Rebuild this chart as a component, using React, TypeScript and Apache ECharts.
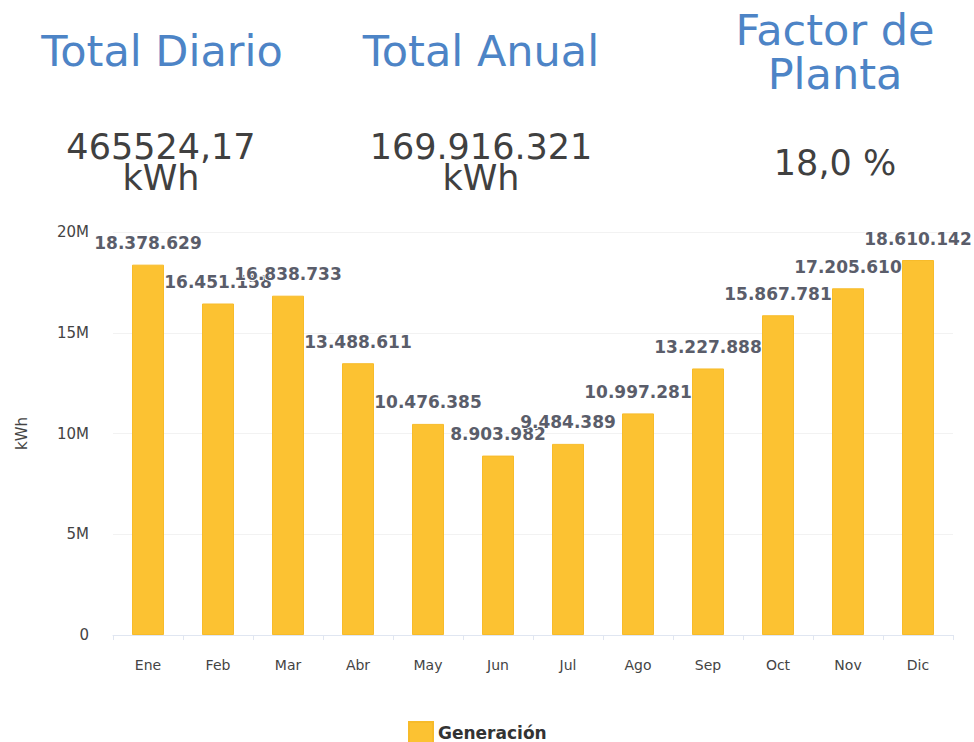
import React, { useEffect, useRef } from "react";
import * as echarts from "echarts";

const months = ["Ene", "Feb", "Mar", "Abr", "May", "Jun", "Jul", "Ago", "Sep", "Oct", "Nov", "Dic"];
const generacion = [18378629, 16451158, 16838733, 13488611, 10476385, 8903982, 9484389, 10997281, 13227888, 15867781, 17205610, 18610142];
const yTicks = [0, 5000000, 10000000, 15000000, 20000000];
const kpiTitles = ["Total Diario", "Total Anual", "Factor de\nPlanta"];
const kpiValues = ["465524,17\nkWh", "169.916.321\nkWh", "18,0 %"];

const fmt = (v: number) => String(Math.round(v)).replace(/\B(?=(\d{3})+(?!\d))/g, ".");

export default function App() {
  const ref = useRef<HTMLDivElement>(null);
  useEffect(() => {
    if (!ref.current) return;
    const chart = echarts.init(ref.current, null, { renderer: "svg" });
    const titleFont = "43px 'DejaVu Sans'";
    const valFont = "35px 'DejaVu Sans'";
    chart.setOption({
      animation: false,
      backgroundColor: "#ffffff",
      graphic: [
        { type: "text", x: 162, y: 51, style: { text: kpiTitles[0], font: titleFont, fill: "#4d84c6", align: "center", verticalAlign: "middle" } },
        { type: "text", x: 481, y: 51, style: { text: kpiTitles[1], font: titleFont, fill: "#4d84c6", align: "center", verticalAlign: "middle" } },
        { type: "text", x: 835, y: 52, style: { text: kpiTitles[2], font: titleFont, fill: "#4d84c6", align: "center", verticalAlign: "middle", lineHeight: 44 } },
        { type: "text", x: 161, y: 162, style: { text: kpiValues[0], font: valFont, fill: "#404040", align: "center", verticalAlign: "middle", lineHeight: 31 } },
        { type: "text", x: 481, y: 162, style: { text: kpiValues[1], font: valFont, fill: "#404040", align: "center", verticalAlign: "middle", lineHeight: 31 } },
        { type: "text", x: 835, y: 163, style: { text: kpiValues[2], font: valFont, fill: "#404040", align: "center", verticalAlign: "middle" } },
      ],
      legend: {
        left: 403,
        top: 716,
        itemWidth: 24,
        itemHeight: 21,
        itemGap: 10,
        icon: "rect",
        textStyle: { fontFamily: "DejaVu Sans", fontWeight: "bold", fontSize: 17, color: "#333" },
        data: ["Generación"],
      },
      grid: { left: 113, right: 21, top: 232, bottom: 107, containLabel: false },
      xAxis: {
        type: "category",
        data: months,
        axisLine: { lineStyle: { color: "#e0e6f1" } },
        axisTick: { show: true, length: 5, lineStyle: { color: "#e0e6f1" } },
        axisLabel: { color: "#444", fontFamily: "DejaVu Sans", fontSize: 14, margin: 23 },
      },
      yAxis: {
        type: "value",
        min: yTicks[0],
        max: yTicks[yTicks.length - 1],
        interval: 5000000,
        name: "kWh",
        nameLocation: "middle",
        nameGap: 84,
        nameTextStyle: { color: "#444", fontFamily: "DejaVu Sans", fontSize: 15 },
        axisLine: { show: false },
        axisTick: { show: false },
        splitLine: { lineStyle: { color: "#f2f2f2" } },
        axisLabel: {
          color: "#444",
          fontFamily: "DejaVu Sans",
          fontSize: 15,
          margin: 24,
          formatter: (v: number) => (v === 0 ? "0" : v / 1000000 + "M"),
        },
      },
      series: [
        {
          name: "Generación",
          type: "bar",
          data: generacion,
          barWidth: 32,
          itemStyle: { color: "#fcc232", borderColor: "#f7bb2a", borderWidth: 1 },
          label: {
            show: true,
            position: "top",
            distance: 13,
            formatter: (p: any) => fmt(p.value),
            fontFamily: "DejaVu Sans",
            fontWeight: "bold",
            fontSize: 17,
            color: "#5a5d6a",
            textBorderColor: "#ffffff",
            textBorderWidth: 2,
          },
        },
      ],
    });
    return () => chart.dispose();
  }, []);
  return <div ref={ref} style={{ position: "fixed", left: 0, top: 0, width: 974, height: 742 }} />;
}
